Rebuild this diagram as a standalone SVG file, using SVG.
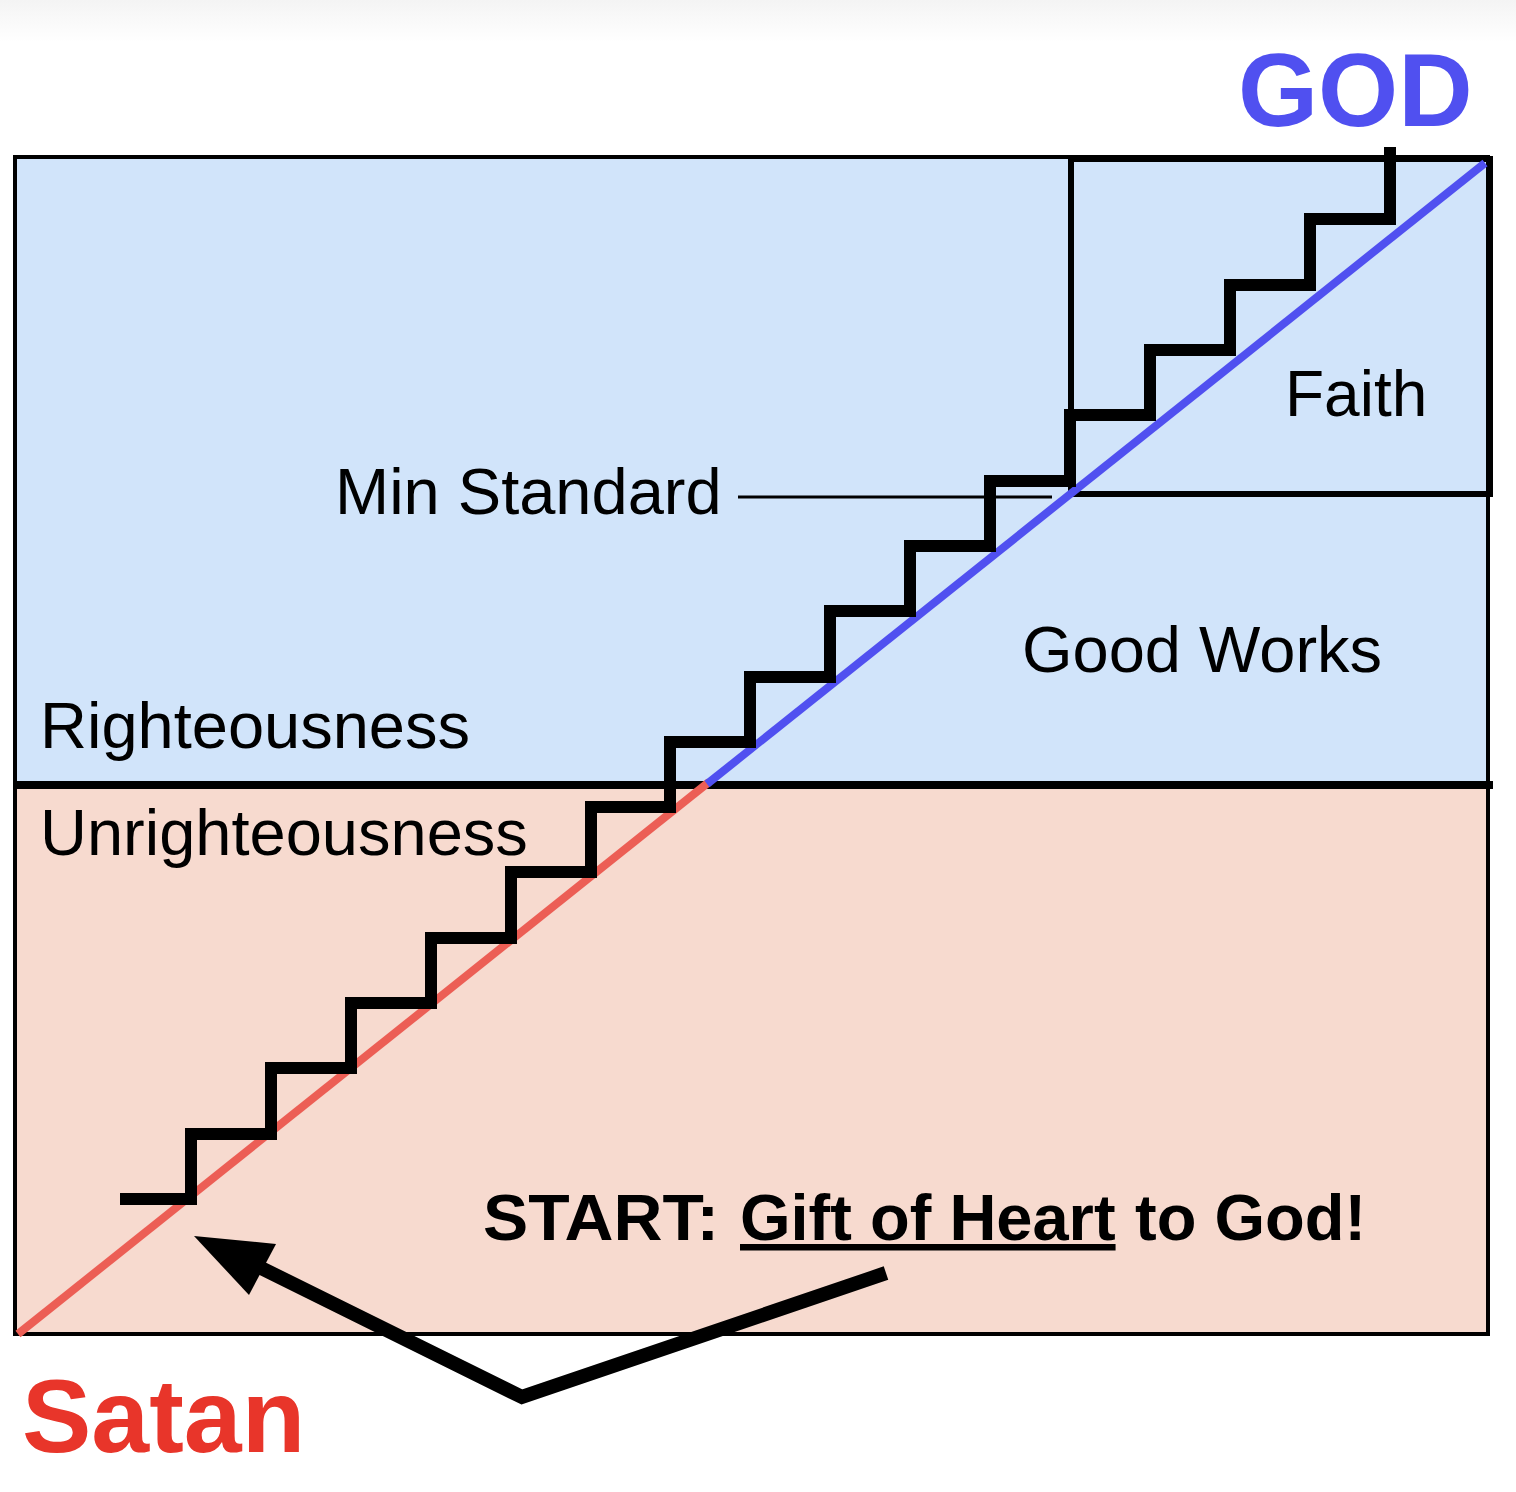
<svg xmlns="http://www.w3.org/2000/svg" width="1516" height="1492" viewBox="0 0 1516 1492">
  <defs>
    <linearGradient id="topShade" x1="0" y1="0" x2="0" y2="1">
      <stop offset="0" stop-color="#f4f4f4"/>
      <stop offset="1" stop-color="#ffffff"/>
    </linearGradient>
    <style>
      .lbl { font-family: "Liberation Sans", Arial, Helvetica, sans-serif; fill: #000; }
      .big { font-family: "Liberation Sans", Arial, Helvetica, sans-serif; font-weight: bold; }
      .frame { stroke: #000; stroke-width: 4; }
      .stairs { fill: none; stroke: #000; stroke-width: 12; stroke-linejoin: miter; stroke-linecap: butt; }
    </style>
  </defs>
  <rect x="0" y="0" width="1516" height="1492" fill="#ffffff"/>
  <rect x="0" y="0" width="1516" height="42" fill="url(#topShade)"/>

  <g id="righteousness-zone">
    <rect class="frame" x="15" y="157" width="1473" height="628" fill="#d1e4fa"/>
    <text class="lbl" x="40" y="748" font-size="65">Righteousness</text>
  </g>

  <g id="unrighteousness-zone">
    <rect class="frame" x="15" y="787" width="1473" height="547" fill="#f7dacf"/>
    <text class="lbl" x="40" y="855" font-size="65">Unrighteousness</text>
  </g>

  <g id="divider">
    <line x1="15" y1="785" x2="1493" y2="785" stroke="#000" stroke-width="8"/>
  </g>

  <g id="faith-box">
    <rect x="1071" y="159" width="419" height="335" fill="none" stroke="#000" stroke-width="6"/>
    <text class="lbl" x="1285" y="416" font-size="64">Faith</text>
  </g>

  <g id="good-works">
    <text class="lbl" x="1022" y="672" font-size="65">Good Works</text>
  </g>

  <g id="min-standard">
    <text class="lbl" x="335" y="514" font-size="65">Min Standard</text>
  </g>

  <g id="connectors">
    <line x1="738" y1="497" x2="1052" y2="497" stroke="#000" stroke-width="3"/>
    <line x1="18" y1="1334" x2="709" y2="782" stroke="#ec5e55" stroke-width="8"/>
    <line x1="707" y1="784" x2="1485" y2="163" stroke="#5050f0" stroke-width="8"/>
    <path class="stairs" d="M120,1199 H191 V1134 H271 V1068 H351 V1003 H431 V938 H511 V872 H591 V807 H670 V742 H750 V677 H830 V611 H910 V546 H990 V481 H1070 V415 H1150 V350 H1230 V285 H1310 V219 H1390 V147"/>
    <polyline points="886,1273 522,1397 255,1265" fill="none" stroke="#000" stroke-width="14" stroke-linejoin="miter" stroke-miterlimit="1.5"/>
    <polygon points="194,1236 276,1244 249,1295" fill="#000"/>
  </g>

  <g id="start-label">
    <text class="big" y="1240" font-size="65" fill="#000"><tspan x="483" textLength="236" lengthAdjust="spacingAndGlyphs">START:</tspan><tspan x="740" text-decoration="underline">Gift of Heart</tspan><tspan x="1135">to God!</tspan></text>
  </g>

  <g id="god">
    <text class="big" x="1238" y="126" font-size="103" fill="#5050f0">GOD</text>
  </g>

  <g id="satan">
    <text class="big" x="22" y="1452" font-size="104" fill="#e8352a">Satan</text>
  </g>
</svg>
